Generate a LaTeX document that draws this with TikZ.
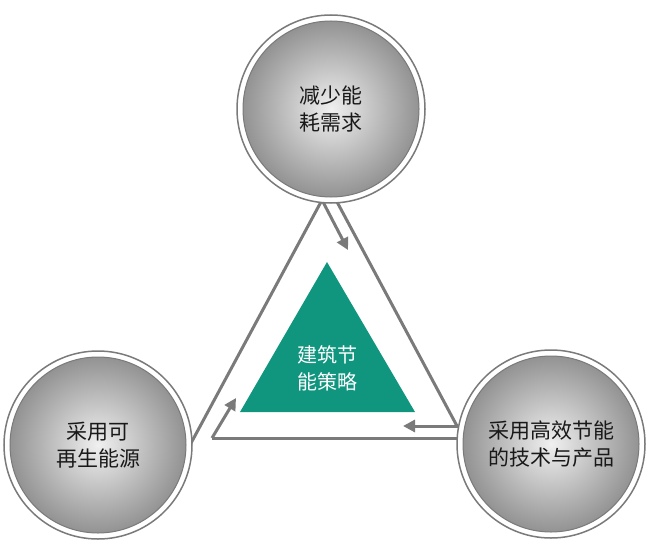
\documentclass[tikz,border=0pt]{standalone}
\usepackage{fontspec}
\newfontfamily\cjk{Noto Sans CJK SC}
\usetikzlibrary{arrows.meta}
\definecolor{tgreen}{HTML}{10957F}
\definecolor{lgray}{HTML}{7A7A7A}
\tikzset{
  ball/.style={circle,draw=lgray,line width=1pt,inner color=gray!12,outer color=gray!85,
    font=\cjk\fontsize{21}{27}\selectfont,align=center,text=black!90},
  ring/.style={circle,draw=lgray,line width=1.5pt,fill=white},
  edge/.style={draw=lgray,line width=3pt},
  arr/.style={draw=lgray,line width=3pt,-{Triangle[length=12pt,width=12pt]}},
}
\begin{document}
\begin{tikzpicture}[x=1pt,y=-1pt]
\useasboundingbox (0,0) rectangle (650,543);
% connectors
\coordinate (tl) at (322,200);
\coordinate (tr) at (336,200);
\coordinate (bl) at (190,445);
\coordinate (bl2) at (212,438);
\coordinate (br) at (460,426);
\coordinate (br2) at (462,438);
\coordinate (tr2) at (457,426);
\coordinate (a1) at (348,250);
\coordinate (a2) at (403,426);
\coordinate (a3) at (236,398);
\draw[edge] (tl) -- (bl);
\draw[edge] (tr) -- (tr2);
\draw[edge] (bl2) -- (br2);
\draw[arr] (tl) -- (a1);
\draw[arr] (br) -- (a2);
\draw[arr] (bl2) -- (a3);
% green triangle
\fill[tgreen] (327,262) -- (415,412) -- (240,412) -- cycle;
\node[font=\cjk\fontsize{20}{27}\selectfont,text=white,align=center] (c) at (327,368) {建筑节\\能策略};
% circles
\node[ring,minimum size=188pt] (tring) at (331,109) {};
\node[ball,minimum size=176pt] (t) at (331,109) {减少能\\耗需求};
\node[ring,minimum size=188pt] (lring) at (98,445) {};
\node[ball,minimum size=176pt] (l) at (98,445) {采用可\\再生能源};
\node[ring,minimum size=188pt] (rring) at (551,444) {};
\node[ball,minimum size=176pt] (r) at (551,444) {采用高效节能\\的技术与产品};
\end{tikzpicture}
\end{document}
